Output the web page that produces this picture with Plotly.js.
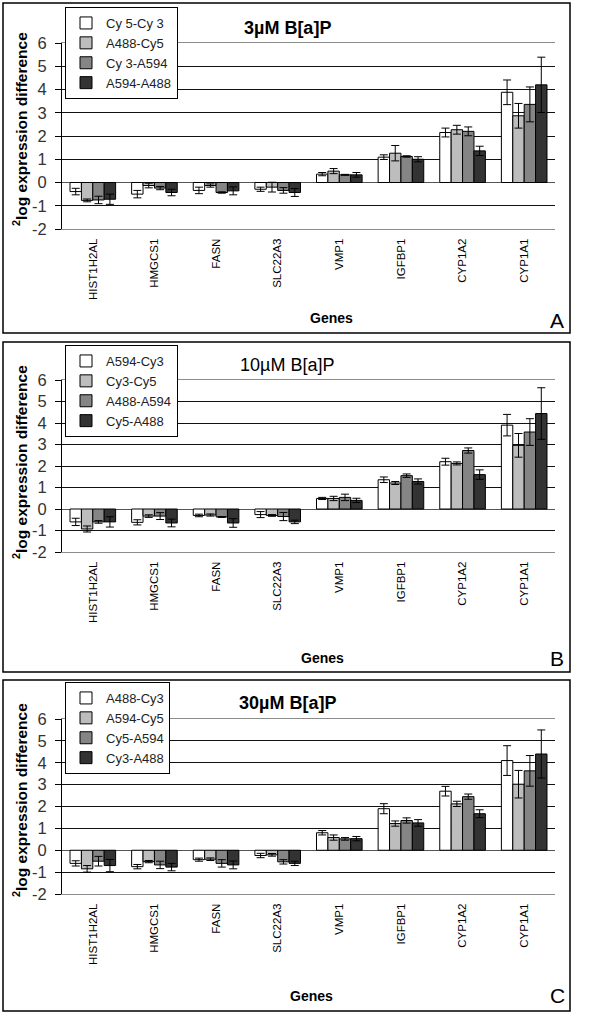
<!DOCTYPE html>
<html>
<head>
<meta charset="utf-8">
<script src="https://cdn.plot.ly/plotly-3.0.1.min.js"></script>
<style>
    body { margin: 0; padding: 0; background: #fff; overflow: hidden; }
    #chart { width: 600px; height: 1035px; }
</style>
</head>
<body>
<div id="chart"></div>
<script>
// B[a]P expression differences, three dose panels

const genes = ['HIST1H2AL', 'HMGCS1', 'FASN', 'SLC22A3', 'VMP1', 'IGFBP1', 'CYP1A2', 'CYP1A1'];
const yTicks = [-2, -1, 0, 1, 2, 3, 4, 5, 6];
const yTickLabels = ['-2', '-1', '0', '1', '2', '3', '4', '5', '6'];
const barColors = ['#ffffff', '#bdbdbd', '#858585', '#333333'];

// Panel A: 3uM
const namesA = ['Cy 5-Cy 3', 'A488-Cy5', 'Cy 3-A594', 'A594-A488'];
const valuesA = [
    [-0.39, -0.50, -0.34, -0.29, 0.36, 1.09, 2.15, 3.88],
    [-0.77, -0.13, -0.13, -0.20, 0.49, 1.26, 2.27, 2.87],
    [-0.75, -0.24, -0.43, -0.34, 0.33, 1.12, 2.20, 3.36],
    [-0.72, -0.43, -0.36, -0.43, 0.33, 1.00, 1.36, 4.20]
];
const errorsA = [
    [0.14, 0.16, 0.14, 0.09, 0.07, 0.10, 0.19, 0.53],
    [0.06, 0.10, 0.07, 0.21, 0.11, 0.33, 0.19, 0.53],
    [0.16, 0.07, 0.03, 0.12, 0.02, 0.03, 0.19, 0.75],
    [0.22, 0.14, 0.17, 0.17, 0.10, 0.11, 0.20, 1.19]
];

// Panel B: 10uM
const namesB = ['A594-Cy3', 'Cy3-Cy5', 'A488-A594', 'Cy5-A488'];
const valuesB = [
    [-0.60, -0.62, -0.30, -0.26, 0.49, 1.36, 2.20, 3.90],
    [-0.93, -0.33, -0.28, -0.30, 0.49, 1.21, 2.12, 2.96],
    [-0.60, -0.33, -0.37, -0.35, 0.54, 1.55, 2.72, 3.58],
    [-0.60, -0.65, -0.65, -0.60, 0.40, 1.28, 1.60, 4.44]
];
const errorsB = [
    [0.17, 0.12, 0.06, 0.14, 0.05, 0.13, 0.16, 0.50],
    [0.14, 0.06, 0.05, 0.04, 0.10, 0.07, 0.07, 0.55],
    [0.06, 0.16, 0.02, 0.19, 0.15, 0.08, 0.12, 0.62],
    [0.24, 0.18, 0.20, 0.08, 0.10, 0.12, 0.22, 1.20]
];

// Panel C: 30uM
const namesC = ['A488-Cy3', 'A594-Cy5', 'Cy5-A594', 'Cy3-A488'];
const valuesC = [
    [-0.60, -0.75, -0.43, -0.24, 0.80, 1.90, 2.70, 4.10],
    [-0.85, -0.52, -0.41, -0.21, 0.58, 1.22, 2.12, 3.02],
    [-0.50, -0.67, -0.60, -0.53, 0.52, 1.36, 2.45, 3.63],
    [-0.70, -0.77, -0.67, -0.60, 0.53, 1.25, 1.67, 4.40]
];
const errorsC = [
    [0.12, 0.10, 0.07, 0.10, 0.10, 0.23, 0.22, 0.68],
    [0.15, 0.05, 0.06, 0.06, 0.12, 0.12, 0.12, 0.63],
    [0.22, 0.17, 0.17, 0.10, 0.06, 0.12, 0.12, 0.70],
    [0.28, 0.17, 0.18, 0.10, 0.10, 0.15, 0.18, 1.10]
];

const W = 600, H = 1035;
const FONT = 'Arial, "Liberation Sans", sans-serif';
const NARROW = '"Liberation Sans Narrow", "Arial Narrow", Arial, sans-serif';

// pixel -> paper helpers (margins are zero)
const px = (v) => v / W;
const py = (v) => 1 - v / H;

// panel geometry in pixels
const panels = [
    { id: '', names: namesA, values: valuesA, errors: errorsA, box: [3, 3, 570, 333], plot: [43, 229],
      title: '3µM B[a]P', bold: true, titleY: 28, legendTop: 7, genesX: 331, genesY: 318, letter: 'A', letterY: 320, ytitleY: 129 },
    { id: '2', names: namesB, values: valuesB, errors: errorsB, box: [3, 342, 570, 672], plot: [380, 552],
      title: '10µM B[a]P', bold: false, titleY: 365, legendTop: 345, genesX: 322, genesY: 658, letter: 'B', letterY: 658, ytitleY: 462 },
    { id: '3', names: namesC, values: valuesC, errors: errorsC, box: [3, 680, 570, 1011], plot: [719, 894],
      title: '30µM B[a]P', bold: true, titleY: 703, legendTop: 682, genesX: 311, genesY: 996, letter: 'C', letterY: 995, ytitleY: 800 }
];

// centred text placed in pixel coordinates
const label = (x, y, text, size, extra = {}) => Object.assign({
    xref: 'paper', yref: 'paper', x: px(x), y: py(y),
    xanchor: 'center', yanchor: 'middle',
    text: text, showarrow: false,
    font: { family: FONT, size: size, color: '#000' }
}, extra);

const data = [];
const layout = {
    width: W,
    height: H,
    margin: { l: 0, r: 0, t: 0, b: 0 },
    paper_bgcolor: '#fff',
    plot_bgcolor: '#fff',
    showlegend: true,
    barmode: 'group',
    bargap: 0.26,
    bargroupgap: 0,
    font: { family: FONT, color: '#000' },
    shapes: [],
    annotations: []
};

panels.forEach((p) => {
    const xName = 'x' + p.id;
    const yName = 'y' + p.id;
    const legendName = 'legend' + p.id;

    // bars with error bars
    p.names.forEach((name, i) => {
        data.push({
            type: 'bar',
            name: name,
            x: genes,
            y: p.values[i],
            xaxis: xName,
            yaxis: yName,
            legend: legendName,
            marker: { color: barColors[i], line: { color: '#000', width: 1 } },
            error_y: { type: 'data', array: p.errors[i], visible: true, color: '#000', thickness: 1, width: 4 },
            hoverinfo: 'skip'
        });
    });

    layout['xaxis' + p.id] = {
        domain: [px(62), px(555)],
        anchor: yName,
        type: 'category',
        showline: true,
        mirror: true,
        linecolor: '#8c8c8c',
        linewidth: 1,
        ticks: '',
        tickangle: -90,
        ticklabelstandoff: 4,
        tickfont: { family: FONT, size: 11.5, color: '#000' },
        showgrid: false,
        fixedrange: true
    };

    layout['yaxis' + p.id] = {
        domain: [py(p.plot[1]), py(p.plot[0])],
        anchor: xName,
        range: [-2, 6],
        tickvals: yTicks,
        ticktext: yTickLabels,
        ticks: 'outside',
        ticklen: 6,
        tickcolor: '#000',
        ticklabelstandoff: 5,
        tickfont: { family: FONT, size: 16.5, color: '#333' },
        showline: true,
        linecolor: '#000',
        linewidth: 1,
        showgrid: true,
        gridcolor: '#111',
        gridwidth: 1,
        zeroline: true,
        zerolinecolor: '#555',
        zerolinewidth: 1,
        fixedrange: true
    };

    layout[legendName] = {
        x: px(65),
        y: py(p.legendTop),
        xanchor: 'left',
        yanchor: 'top',
        bgcolor: '#fff',
        bordercolor: '#000',
        borderwidth: 1,
        itemwidth: 30,
        tracegroupgap: 0,
        traceorder: 'normal',
        font: { family: NARROW, size: 13, color: '#222' }
    };

    // panel frame
    layout.shapes.push({
        type: 'rect', xref: 'paper', yref: 'paper',
        x0: px(p.box[0]), x1: px(p.box[2]), y0: py(p.box[3]), y1: py(p.box[1]),
        line: { color: '#000', width: 1.5 }, fillcolor: 'rgba(0,0,0,0)', layer: 'below'
    });

    // title, axis titles and panel letter
    layout.annotations.push(
        label(287, p.titleY, p.bold ? '<b>' + p.title + '</b>' : p.title, 18),
        label(20, p.ytitleY, '<b><sup>2</sup>log expression difference</b>', 15.5, { textangle: -90 }),
        label(p.genesX, p.genesY, '<b>Genes</b>', 14),
        label(557, p.letterY, p.letter, 21)
    );
});

Plotly.newPlot('chart', data, layout, { staticPlot: true, displayModeBar: false });
</script>
</body>
</html>
